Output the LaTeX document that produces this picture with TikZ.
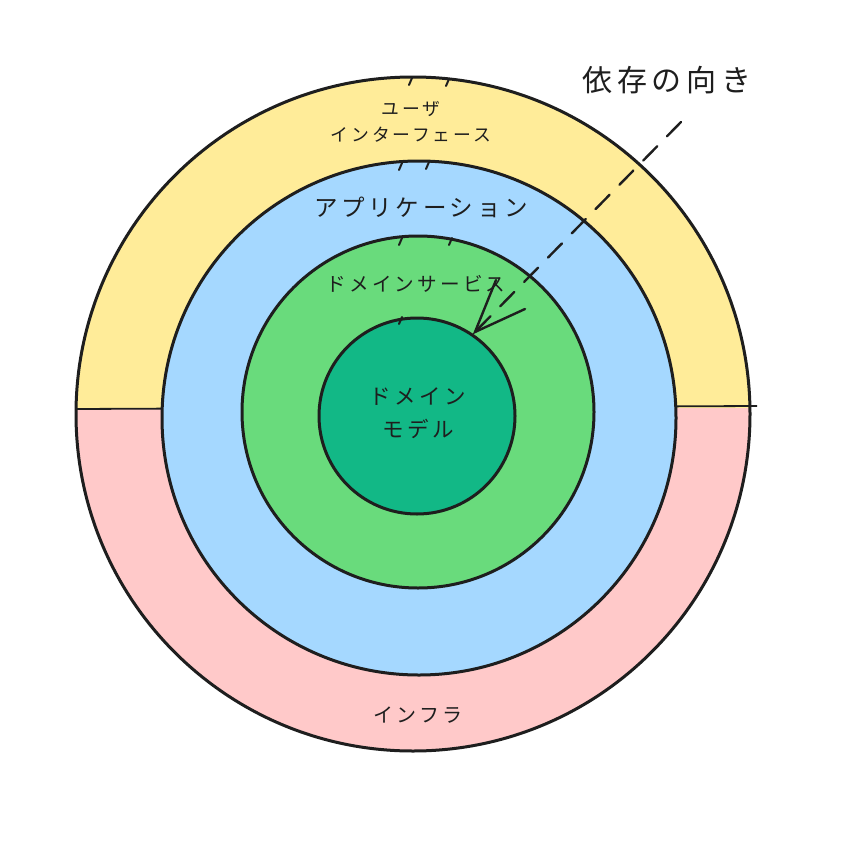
\documentclass[tikz,border=0pt]{standalone}
\usepackage{fontspec}
\setmainfont{Noto Sans CJK JP}[LetterSpace=16]
\begin{document}
\begin{tikzpicture}[x=1pt,y=-1pt,
  ring/.style={draw=ink,line width=3pt},
  lbl/.style={text=ink,inner sep=0pt,font=\fontsize{#1}{#1}\selectfont},
  tick/.style={draw=ink,line width=2pt,line cap=round}]
\definecolor{ink}{HTML}{1E1E1E}
\definecolor{cyel}{HTML}{FFEC99}
\definecolor{cpink}{HTML}{FFC9C9}
\definecolor{cblue}{HTML}{A5D8FF}
\definecolor{cgreen}{HTML}{69DB7C}
\definecolor{cdgreen}{HTML}{12B886}
\useasboundingbox (0,0) rectangle (843,851);
\fill[white] (0,0) rectangle (843,851);
% outer ring halves
\begin{scope}
  \clip (413,414) circle (337);
  \fill[cyel] (60,60) rectangle (770,408);
  \fill[cpink] (60,408) rectangle (770,770);
\end{scope}
\draw[ring] (413,414) circle (337);
\coordinate (dl) at (76,409);
\coordinate (dr) at (757,406);
\draw[draw=ink,line width=1.8pt] (dl) -- (dr);
% inner circles
\fill[cblue] (419,418) circle (257);
\draw[ring] (419,418) circle (257);
\fill[cgreen] (418,412) circle (176);
\draw[ring] (418,412) circle (176);
\fill[cdgreen] (417,416) circle (98);
\draw[ring] (417,416) circle (98);
% ticks
\foreach \x/\y in {412/78,449/79,402/163,429/162,402/238,452/238,402/317}{
  \draw[tick] (\x,\y) -- ++(-3,7);
}
% labels
\node[lbl=17.8] (ui1) at (411,109) {ユーザ};
\node[lbl=17.8] (ui2) at (411,135) {インターフェース};
\node[lbl=23.5] (app) at (421,207) {アプリケーション};
\node[lbl=19.6] (ds) at (416,284) {ドメインサービス};
\node[lbl=21.5] (dm1) at (418,397) {ドメイン};
\node[lbl=21.5] (dm2) at (418,429) {モデル};
\node[lbl=20] (inf) at (418,715) {インフラ};
\node[lbl=30] (dep) at (667,80) {依存の向き};
% dependency arrow
\coordinate (as) at (681,122);
\coordinate (tip) at (475,332);
\coordinate (w1) at (496,280);
\coordinate (w2) at (525,309);
\draw[draw=ink,line width=2.4pt,dash pattern=on 20pt off 14pt,line cap=round] (as) -- (tip);
\draw[draw=ink,line width=2.4pt,line cap=round] (w1) -- (tip) -- (w2);
\end{tikzpicture}
\end{document}
